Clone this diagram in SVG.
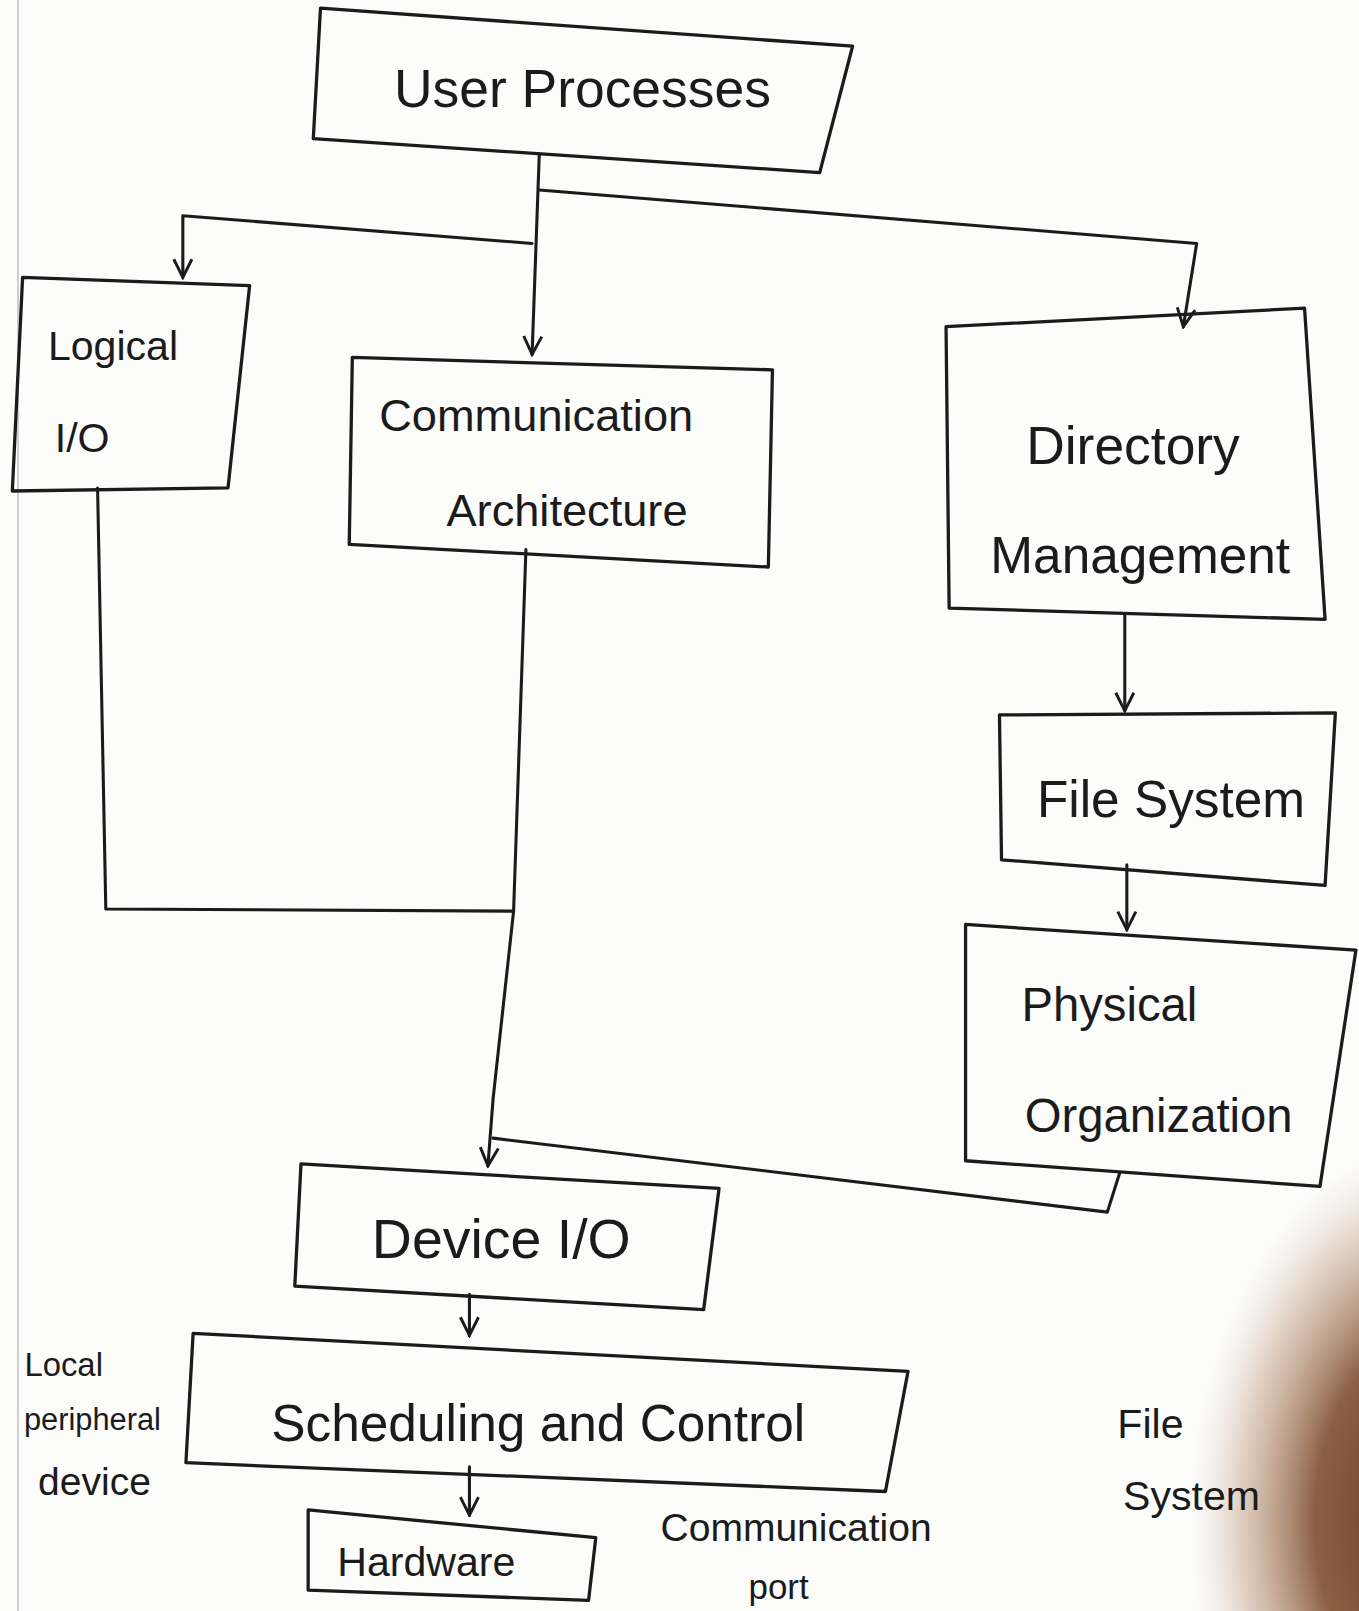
<svg xmlns="http://www.w3.org/2000/svg" width="1359" height="1611" viewBox="0 0 1359 1611">
<defs>
<style>
.box{fill:none;stroke:#1b1b1b;stroke-width:3.2;stroke-linejoin:round}
.ln{fill:none;stroke:#1b1b1b;stroke-width:3;stroke-linecap:round;stroke-linejoin:round}
.t{font-family:"Liberation Sans","DejaVu Sans",sans-serif;fill:#1b1b1b;text-anchor:middle}
</style>
<marker id="ah" viewBox="0 0 20 20" refX="18" refY="10" markerWidth="22" markerHeight="22" markerUnits="userSpaceOnUse" orient="auto">
<path d="M2,2 L18,10 L2,18" fill="none" stroke="#1b1b1b" stroke-width="2.6"/>
</marker>
<radialGradient id="sh" cx="0.5" cy="0.5" r="0.5">
<stop offset="0" stop-color="#5e3218" stop-opacity="1"/>
<stop offset="0.5" stop-color="#7f4e2e" stop-opacity="0.9"/>
<stop offset="0.8" stop-color="#b58b6c" stop-opacity="0.4"/>
<stop offset="1" stop-color="#d9c2b0" stop-opacity="0"/>
</radialGradient>
</defs>
<rect width="1359" height="1611" fill="#fcfcfb"/>
<line x1="18" y1="0" x2="18" y2="1611" stroke="#cfcfd6" stroke-width="2"/>
<ellipse cx="1440" cy="1520" rx="250" ry="380" fill="url(#sh)"/>
<g transform="scale(1.0272)">
<g id="connectors">
<path class="ln" d="M525,150 L518,345" marker-end="url(#ah)"/>
<path class="ln" d="M525,185 L1165,237 L1152,318" marker-end="url(#ah)"/>
<path class="ln" d="M518,237 L178,210 L178,270" marker-end="url(#ah)"/>
<path class="ln" d="M1095,598 L1095,692" marker-end="url(#ah)"/>
<path class="ln" d="M1097,842 L1097,905" marker-end="url(#ah)"/>
<path class="ln" d="M512,535 L500,887 L480,1070 L475,1135" marker-end="url(#ah)"/>
<path class="ln" d="M95,475 L103,885 L500,887"/>
<path class="ln" d="M1090,1142 L1078,1180 L480,1108"/>
<path class="ln" d="M457,1260 L457,1300" marker-end="url(#ah)"/>
<path class="ln" d="M457,1428 L457,1475" marker-end="url(#ah)"/>
</g>
<g id="user-processes">
<polygon class="box" points="312,8 830,45 798,168 305,135"/>
<text class="t" x="567" y="104" font-size="52">User Processes</text>
</g>
<g id="logical-io">
<polygon class="box" points="22,270 243,278 222,475 12,478"/>
<text class="t" x="110" y="350" font-size="40">Logical</text>
<text class="t" x="80" y="440" font-size="40">I/O</text>
</g>
<g id="communication-architecture">
<polygon class="box" points="343,348 752,360 748,552 340,530"/>
<text class="t" x="522" y="420" font-size="44">Communication</text>
<text class="t" x="552" y="512" font-size="44">Architecture</text>
</g>
<g id="directory-management">
<polygon class="box" points="921,318 1270,300 1290,603 924,592"/>
<text class="t" x="1103" y="452" font-size="52">Directory</text>
<text class="t" x="1110" y="558" font-size="50">Management</text>
</g>
<g id="file-system">
<polygon class="box" points="973,696 1300,694 1290,862 975,837"/>
<text class="t" x="1140" y="795" font-size="50">File System</text>
</g>
<g id="physical-organization">
<polygon class="box" points="940,900 1320,925 1285,1155 940,1130"/>
<text class="t" x="1080" y="994" font-size="46">Physical</text>
<text class="t" x="1128" y="1102" font-size="46">Organization</text>
</g>
<g id="device-io">
<polygon class="box" points="293,1133 700,1157 685,1275 287,1252"/>
<text class="t" x="488" y="1225" font-size="54">Device I/O</text>
</g>
<g id="scheduling-control">
<polygon class="box" points="188,1298 884,1335 862,1452 181,1424"/>
<text class="t" x="524" y="1403" font-size="50">Scheduling and Control</text>
</g>
<g id="hardware">
<polygon class="box" points="300,1470 580,1497 573,1558 300,1548"/>
<text class="t" x="415" y="1534" font-size="40">Hardware</text>
</g>
<g id="labels">
<text class="t" x="62" y="1340" font-size="32">Local</text>
<text class="t" x="90" y="1392" font-size="30">peripheral</text>
<text class="t" x="92" y="1455" font-size="38">device</text>
<text class="t" x="775" y="1500" font-size="38">Communication</text>
<text class="t" x="758" y="1557" font-size="34">port</text>
<text class="t" x="1120" y="1400" font-size="40">File</text>
<text class="t" x="1160" y="1470" font-size="40">System</text>
</g>
</g>
</svg>
